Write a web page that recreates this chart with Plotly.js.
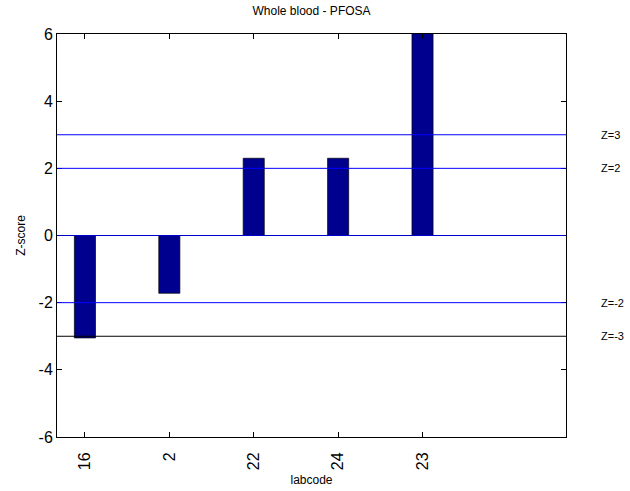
<!DOCTYPE html>
<html>
<head>
<meta charset="utf-8">
<script src="https://cdn.plot.ly/plotly-3.0.1.min.js"></script>
<style>html,body{margin:0;padding:0;background:#fff}#chart{width:630px;height:491px}</style>
</head>
<body>
<div id="chart"></div>
<script>
var labcodes = ['16', '2', '22', '24', '23'];
var zscores = [-3.05, -1.72, 2.3, 2.3, 6.4];
var limitValues = [3, 2, -2, -3];
var limitLabels = ['Z=3', 'Z=2', 'Z=-2', 'Z=-3'];
var limitColors = ['#0000ff', '#0000ff', '#0000ff', '#000000'];
var yTicks = [-6, -4, -2, 0, 2, 4, 6];
var yTickLabels = ['-6', '-4', '-2', '0', '2', '4', '6'];

var positions = labcodes.map(function (_, i) { return i + 1; });

var trace = {
  type: 'bar',
  x: positions,
  y: zscores,
  width: 0.25,
  marker: { color: '#00008f', line: { color: '#000000', width: 0.7 } },
  cliponaxis: true,
  hoverinfo: 'none'
};

var shapes = [{
  type: 'line', xref: 'paper', yref: 'y', x0: 0, x1: 1, y0: 0, y1: 0,
  line: { color: '#0000cc', width: 1 }
}];
var annotations = [];
limitValues.forEach(function (v, i) {
  shapes.push({
    type: 'line', xref: 'paper', yref: 'y', x0: 0, x1: 1, y0: v, y1: v,
    line: { color: limitColors[i], width: 1 }
  });
  annotations.push({
    xref: 'paper', yref: 'y', x: 1.064, y: v, xanchor: 'left', yanchor: 'middle',
    text: limitLabels[i], showarrow: false,
    font: { family: 'Liberation Sans, Arial, sans-serif', size: 11, color: '#000' }
  });
});

var layout = {
  width: 630, height: 491,
  margin: { l: 57, r: 64, t: 34, b: 54 },
  paper_bgcolor: '#fff', plot_bgcolor: '#fff',
  showlegend: false,
  title: {
    text: 'Whole blood - PFOSA',
    x: 0.4945, xanchor: 'center', y: 0.979, yanchor: 'middle',
    font: { family: 'Liberation Sans, Arial, sans-serif', size: 12, color: '#000' }
  },
  xaxis: {
    range: [0.669, 6.7],
    tickvals: positions,
    ticktext: labcodes,
    tickangle: -90,
    ticks: 'inside', ticklen: 5, tickcolor: '#000', tickwidth: 1,
    ticklabelstandoff: 8,
    showline: true, linecolor: '#000', linewidth: 1, mirror: 'ticks',
    showgrid: false, zeroline: false,
    tickfont: { family: 'Liberation Sans, Arial, sans-serif', size: 16, color: '#000' },
    title: { text: 'labcode', standoff: 6,
      font: { family: 'Liberation Sans, Arial, sans-serif', size: 12, color: '#000' } }
  },
  yaxis: {
    range: [-6, 6],
    tickvals: yTicks,
    ticktext: yTickLabels,
    ticks: 'inside', ticklen: 5, tickcolor: '#000', tickwidth: 1,
    showline: true, linecolor: '#000', linewidth: 1, mirror: 'ticks',
    showgrid: false, zeroline: false,
    tickfont: { family: 'Liberation Sans, Arial, sans-serif', size: 16, color: '#000' },
    title: { text: 'Z-score', standoff: 10,
      font: { family: 'Liberation Sans, Arial, sans-serif', size: 12, color: '#000' } }
  },
  shapes: shapes,
  annotations: annotations
};

Plotly.newPlot('chart', [trace], layout, { displayModeBar: false, staticPlot: true });
</script>
</body>
</html>
